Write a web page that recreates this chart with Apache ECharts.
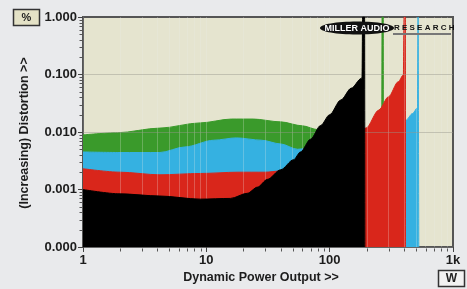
<!DOCTYPE html>
<html>
<head>
    <meta charset='utf-8'>
    <script src="https://cdn.jsdelivr.net/npm/echarts@6/dist/echarts.min.js"></script>
</head>
<body>
<style>
    html, body, #main {
        width: 100%;
        height: 100%;
        margin: 0;
        padding: 0;
        background: #e9eaec;
    }
</style>
<div id="main"></div>
<script>
    // [watts, distortion %]
    var green = [[1, 0.0089], [1.9, 0.0097], [4.2, 0.0117], [8.9, 0.0144], [16, 0.0168], [24, 0.0168],
        [40, 0.015], [60, 0.0128], [80, 0.011], [130, 0.0105], [200, 0.010], [262, 0.0255], [265, 0.026],
        [266, 1], [272, 1], [273, 0.0001]];
    var blue = [[1, 0.0045], [2, 0.0044], [4.2, 0.0044], [6.7, 0.0055], [11.5, 0.0072], [17.5, 0.0079],
        [28, 0.0072], [40, 0.0062], [55, 0.005], [100, 0.006], [200, 0.009], [300, 0.012],
        [415, 0.016], [470, 0.021], [516, 0.0265], [519, 0.027], [521, 1], [527, 1], [528, 0.0001]];
    var red = [[1, 0.0023], [2, 0.002], [4.2, 0.0018], [8.9, 0.0019], [18, 0.002], [30, 0.002],
        [40, 0.0021], [51, 0.0025], [60, 0.003], [80, 0.0042], [120, 0.007], [150, 0.009],
        [197, 0.0117], [250, 0.024], [300, 0.041], [360, 0.075], [396, 0.098], [399, 0.1],
        [401, 1], [411, 1], [412, 0.0001]];
    var black = [[1, 0.001], [2, 0.00084], [4.2, 0.00077], [8.9, 0.00068], [15.7, 0.0007], [21.5, 0.00086],
        [26, 0.0011], [31.3, 0.0015], [40, 0.0022], [51, 0.0033], [58, 0.0045], [70, 0.0075],
        [84.5, 0.013], [100, 0.02], [123, 0.036], [150, 0.058], [180, 0.085], [183, 0.09],
        [185, 1], [192, 1], [193, 0.0001]];

    // log minor positions (grid lines and ticks)
    var minorX = [2, 3, 4, 5, 6, 7, 8, 9, 20, 30, 40, 50, 60, 70, 80, 90,
        200, 300, 400, 500, 600, 700, 800, 900];
    var majorX = [10, 100];
    var gridY = [0.1, 0.01, 0.001];
    var minorY = [];
    [0.0001, 0.001, 0.01, 0.1].forEach(function (d) {
        for (var k = 2; k <= 9; k++) minorY.push(+(d * k).toPrecision(2));
    });

    var chart = echarts.init(document.getElementById('main'));

    function area(name, data, color, z) {
        return {
            name: name,
            type: 'line',
            data: data,
            z: z,
            showSymbol: false,
            smooth: 0.3,
            smoothMonotone: 'x',
            lineStyle: {color: color, width: 1},
            areaStyle: {color: color, opacity: 1, origin: 'start'}
        };
    }

    function ticks(data, vertical) {
        return {
            type: 'custom',
            silent: true,
            clip: false,
            z: 12,
            data: data,
            renderItem: function (params, api) {
                var p = api.coord([api.value(0), api.value(1)]);
                var x = Math.round(p[0]) + 0.5, y = Math.round(p[1]) + 0.5;
                return {
                    type: 'line',
                    shape: vertical ? {x1: x, y1: y + 1, x2: x, y2: y + 4} : {x1: x - 4, y1: y, x2: x - 1, y2: y},
                    style: {stroke: '#555', lineWidth: 1}
                };
            }
        };
    }

    var lbl = {color: '#1c1c1c', fontWeight: 'bold', fontSize: 13, fontFamily: 'Liberation Sans'};

    chart.setOption({
        animation: false,
        grid: {
            left: 83, right: 14, top: 17, bottom: 42,
            show: true,
            backgroundColor: '#e5e4cf',
            borderColor: '#555',
            borderWidth: 2
        },
        xAxis: {
            type: 'log',
            logBase: 10,
            min: 1,
            max: 1000,
            axisLine: {lineStyle: {color: '#666'}},
            axisTick: {length: 5, lineStyle: {color: '#444'}},
            splitLine: {show: false},
            axisLabel: Object.assign({
                margin: 7,
                formatter: function (v) {
                    v = Math.round(v);
                    return v >= 1000 ? (v / 1000) + 'k' : String(v);
                }
            }, lbl)
        },
        yAxis: {
            type: 'log',
            logBase: 10,
            min: 0.0001,
            max: 1,
            axisLine: {show: true, lineStyle: {color: '#666'}},
            axisTick: {show: true, length: 5, lineStyle: {color: '#444'}},
            splitLine: {show: false},
            axisLabel: Object.assign({
                margin: 6,
                formatter: function (v) {
                    return v.toFixed(3);
                }
            }, lbl)
        },
        graphic: [
            {type: 'rect', shape: {x: 13.5, y: 9.5, width: 26, height: 16},
                style: {fill: '#e4e2c6', stroke: '#333', lineWidth: 1.5}},
            {type: 'text', x: 26.5, y: 18, style: {text: '%', fill: '#222', font: 'bold 11px Liberation Sans',
                    textAlign: 'center', textVerticalAlign: 'middle'}},
            {type: 'rect', shape: {x: 438.5, y: 270.5, width: 26, height: 16},
                style: {fill: '#f2f2f2', stroke: '#333', lineWidth: 1.5}},
            {type: 'text', x: 451.5, y: 279, style: {text: 'W', fill: '#222', font: 'bold 12px Liberation Sans',
                    textAlign: 'center', textVerticalAlign: 'middle'}},
            {type: 'text', x: 261, y: 278, style: {text: 'Dynamic Power Output >>', fill: '#1c1c1c',
                    font: 'bold 12.5px Liberation Sans', textAlign: 'center', textVerticalAlign: 'middle'}},
            {type: 'text', x: 25, y: 133, rotation: Math.PI / 2, style: {text: '(Increasing) Distortion >>',
                    fill: '#1c1c1c', font: 'bold 12.5px Liberation Sans', textAlign: 'center', textVerticalAlign: 'middle'}},
            // logo
            {type: 'ellipse', z: 100, shape: {cx: 357, cy: 28, rx: 37, ry: 6.5}, style: {fill: '#111'}},
            {type: 'text', z: 101, x: 357, y: 28.5, style: {text: 'MILLER AUDIO', fill: '#fff',
                    font: 'bold 9px Liberation Sans', textAlign: 'center', textVerticalAlign: 'middle'}},
            {type: 'text', z: 101, x: 394, y: 27.5, style: {text: 'R E S E A R C H', fill: '#111',
                    font: 'bold 8px Liberation Sans', textAlign: 'left', textVerticalAlign: 'middle'}},
            {type: 'rect', z: 101, shape: {x: 393, y: 33, width: 58, height: 2}, style: {fill: '#777'}}
        ],
        series: [
            area('green', green, '#3a9a2b', 2),
            area('blue', blue, '#35b1e1', 3),
            area('red', red, '#d9261b', 4),
            area('black', black, '#000', 5),
            {
                type: 'line',
                data: [[1, 0.0001]],
                showSymbol: false,
                lineStyle: {width: 0},
                z: 10,
                silent: true,
                markLine: {
                    silent: true,
                    symbol: 'none',
                    label: {show: false},
                    lineStyle: {type: 'solid', width: 1, color: 'rgba(235,235,230,0.26)'},
                    data: minorX.concat(majorX).map(function (v) {
                        return {xAxis: v};
                    }).concat(gridY.map(function (v) {
                        return {yAxis: v, lineStyle: {color: 'rgba(150,150,140,0.45)'}};
                    }))
                }
            },
            ticks(minorX.map(function (v) {
                return [v, 0.0001];
            }), true),
            ticks(minorY.map(function (v) {
                return [1, v];
            }), false)
        ]
    });
</script>
</body>
</html>
